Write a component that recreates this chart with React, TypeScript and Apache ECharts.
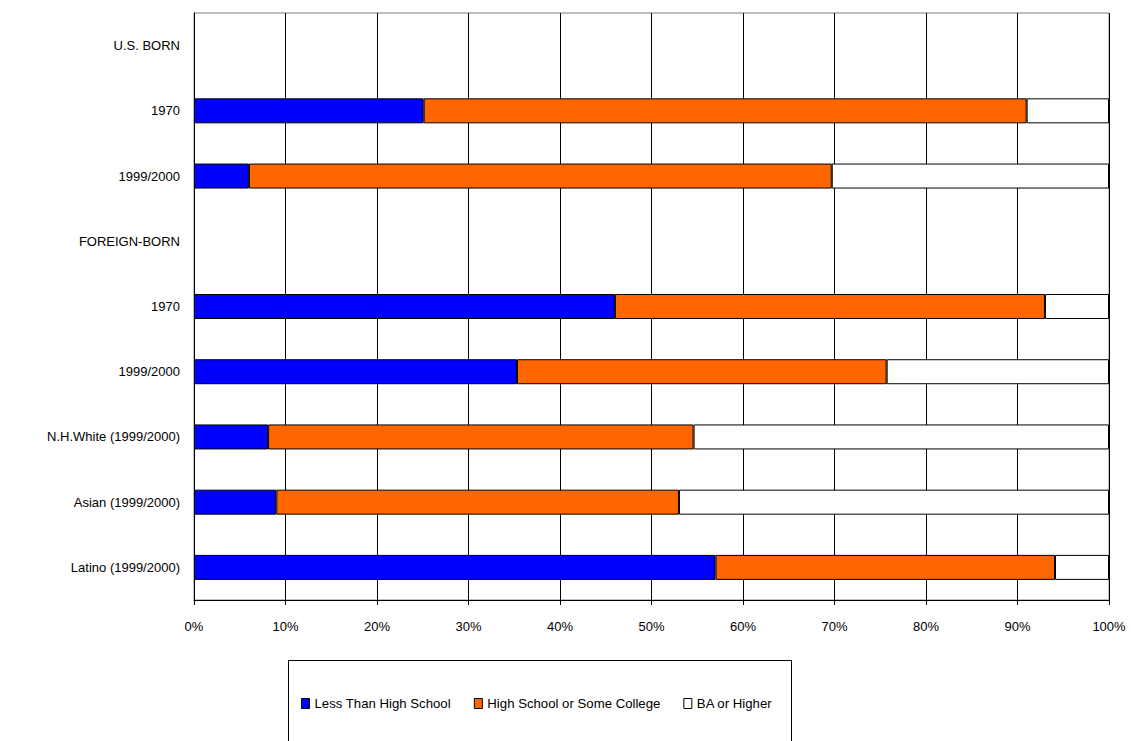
import React, { useEffect, useRef } from "react";
import * as echarts from "echarts";

const categories = [
  "U.S. BORN",
  "1970",
  "1999/2000",
  "FOREIGN-BORN",
  "1970",
  "1999/2000",
  "N.H.White (1999/2000)",
  "Asian (1999/2000)",
  "Latino (1999/2000)",
];
const lessThanHS = [null, 25.1, 6.0, null, 46.0, 35.3, 8.1, 9.0, 57.0];
const hsOrSomeCollege = [null, 65.9, 63.7, null, 47.0, 40.4, 46.5, 44.0, 37.1];
const baOrHigher = [null, 9.0, 30.3, null, 7.0, 24.3, 45.4, 47.0, 5.9];
const xTicks = [0, 10, 20, 30, 40, 50, 60, 70, 80, 90, 100];

const FONT = "'Liberation Sans', Arial, sans-serif";

export default function App() {
  const ref = useRef<HTMLDivElement>(null);
  useEffect(() => {
    if (!ref.current) return;
    const chart = echarts.init(ref.current, null, { renderer: "svg" });
    const bar = (name: string, data: (number | null)[], color: string) => ({
      name,
      type: "bar",
      stack: "total",
      data,
      barWidth: 25,
      itemStyle: { color, borderColor: "#000", borderWidth: 1 },
    });
    chart.setOption({
      animation: false,
      textStyle: { fontFamily: FONT },
      grid: {
        left: 194,
        right: 24,
        top: 13,
        bottom: 141,
        show: true,
        borderColor: "#808080",
        borderWidth: 1,
      },
      xAxis: {
        type: "value",
        min: xTicks[0],
        max: xTicks[xTicks.length - 1],
        interval: 10,
        axisLine: { show: true, lineStyle: { color: "#000" } },
        axisTick: { show: true, length: 5, lineStyle: { color: "#000" } },
        axisLabel: {
          formatter: "{value}%",
          color: "#000",
          fontSize: 13,
          fontFamily: FONT,
          margin: 20,
        },
        splitLine: { show: true, lineStyle: { color: "#000", width: 1 } },
      },
      yAxis: {
        type: "category",
        data: categories,
        inverse: true,
        axisLine: { show: true, lineStyle: { color: "#000" } },
        axisTick: { show: false },
        axisLabel: { color: "#000", fontSize: 13, fontFamily: FONT, margin: 14 },
        splitLine: { show: false },
      },
      legend: {
        left: 296,
        top: 692,
        icon: "rect",
        itemWidth: 8,
        itemHeight: 10,
        itemGap: 23,
        textStyle: { color: "#000", fontSize: 13.2, fontFamily: FONT },
        data: [
          { name: "Less Than High School", itemStyle: { borderColor: "#000", borderWidth: 1 } },
          { name: "High School or Some College", itemStyle: { borderColor: "#000", borderWidth: 1 } },
          { name: "BA or Higher", itemStyle: { borderColor: "#000", borderWidth: 1 } },
        ],
      },
      graphic: [
        {
          type: "rect",
          shape: { x: 288.5, y: 660.5, width: 503, height: 120 },
          style: { fill: "none", stroke: "#000", lineWidth: 1 },
          silent: true,
        },
      ],
      series: [
        bar("Less Than High School", lessThanHS, "#0000ff"),
        bar("High School or Some College", hsOrSomeCollege, "#ff6600"),
        bar("BA or Higher", baOrHigher, "#ffffff"),
      ],
    });
    return () => chart.dispose();
  }, []);
  return <div ref={ref} style={{ width: 1133, height: 741, position: "absolute", left: 0, top: 0 }} />;
}
